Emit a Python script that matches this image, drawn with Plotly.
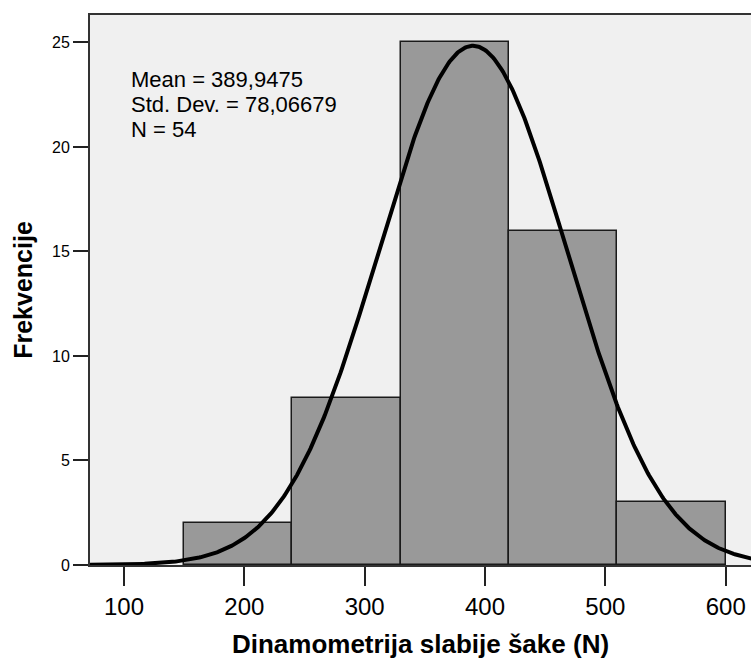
import numpy as np
import plotly.graph_objects as go

# Histogram bins (lower edges) and frequencies
bin_starts = [150, 240, 330, 420, 510]
bin_width = 90
counts = [2, 8, 25, 16, 3]

# Summary statistics of the sample
mean_val = 389.9475
std_val = 78.06679
n_obs = 54

x_tick_vals = [100, 200, 300, 400, 500, 600]
y_tick_vals = [0, 5, 10, 15, 20, 25]

FONT = "Liberation Sans, Arial, Helvetica, sans-serif"

x_range = [71.75, 621.0]
y_range = [0, 26.31]

fig = go.Figure()

# Bars of the histogram
fig.add_trace(go.Bar(
    x=[s + bin_width / 2 for s in bin_starts],
    y=counts,
    width=[bin_width] * len(counts),
    marker=dict(color="#999999", line=dict(color="#1a1a1a", width=1.5)),
    hoverinfo="skip",
))

# Normal curve scaled to the histogram (N * bin width * density)
xs = np.linspace(x_range[0], x_range[1] + 5, 600)
ys = n_obs * bin_width / (std_val * np.sqrt(2 * np.pi)) * np.exp(-0.5 * ((xs - mean_val) / std_val) ** 2)
fig.add_trace(go.Scatter(
    x=xs, y=ys, mode="lines",
    line=dict(color="black", width=4),
    hoverinfo="skip",
))


def comma_num(v, digits):
    return f"{v:.{digits}f}".replace(".", ",")


# Statistics box text
stat_lines = [
    f"Mean = {comma_num(mean_val, 4)}",
    f"Std. Dev. = {comma_num(std_val, 5)}",
    f"N = {n_obs}",
]
stat_y = [23.23, 22.01, 20.84]
for txt, yy in zip(stat_lines, stat_y):
    fig.add_annotation(
        x=104.0, y=yy, xref="x", yref="y", text=txt, showarrow=False,
        xanchor="left", yanchor="middle",
        font=dict(family=FONT, size=22, color="black"),
    )

fig.update_layout(
    width=751, height=659,
    margin=dict(l=90, r=0, t=15, b=94),
    paper_bgcolor="white",
    plot_bgcolor="#f0f0f0",
    showlegend=False,
    bargap=0,
    font=dict(family=FONT, color="black"),
)

fig.update_xaxes(
    range=x_range, tickvals=x_tick_vals,
    ticks="outside", ticklen=19, tickwidth=2, tickcolor="#222222",
    tickfont=dict(size=24, family=FONT),
    showline=True, linecolor="#333333", linewidth=2, mirror=True,
    showgrid=False, zeroline=False,
    title=dict(text="<b>Dinamometrija slabije šake (N)</b>",
               font=dict(size=26, family=FONT), standoff=18),
)
fig.update_yaxes(
    range=y_range, tickvals=y_tick_vals,
    ticks="outside", ticklen=15, tickwidth=2, tickcolor="#222222",
    tickfont=dict(size=16, family=FONT),
    showline=True, linecolor="#333333", linewidth=2,
    showgrid=False, zeroline=False,
    title=dict(text="<b>Frekvencije</b>",
               font=dict(size=25, family=FONT), standoff=12),
)

fig.write_html("out.html")
